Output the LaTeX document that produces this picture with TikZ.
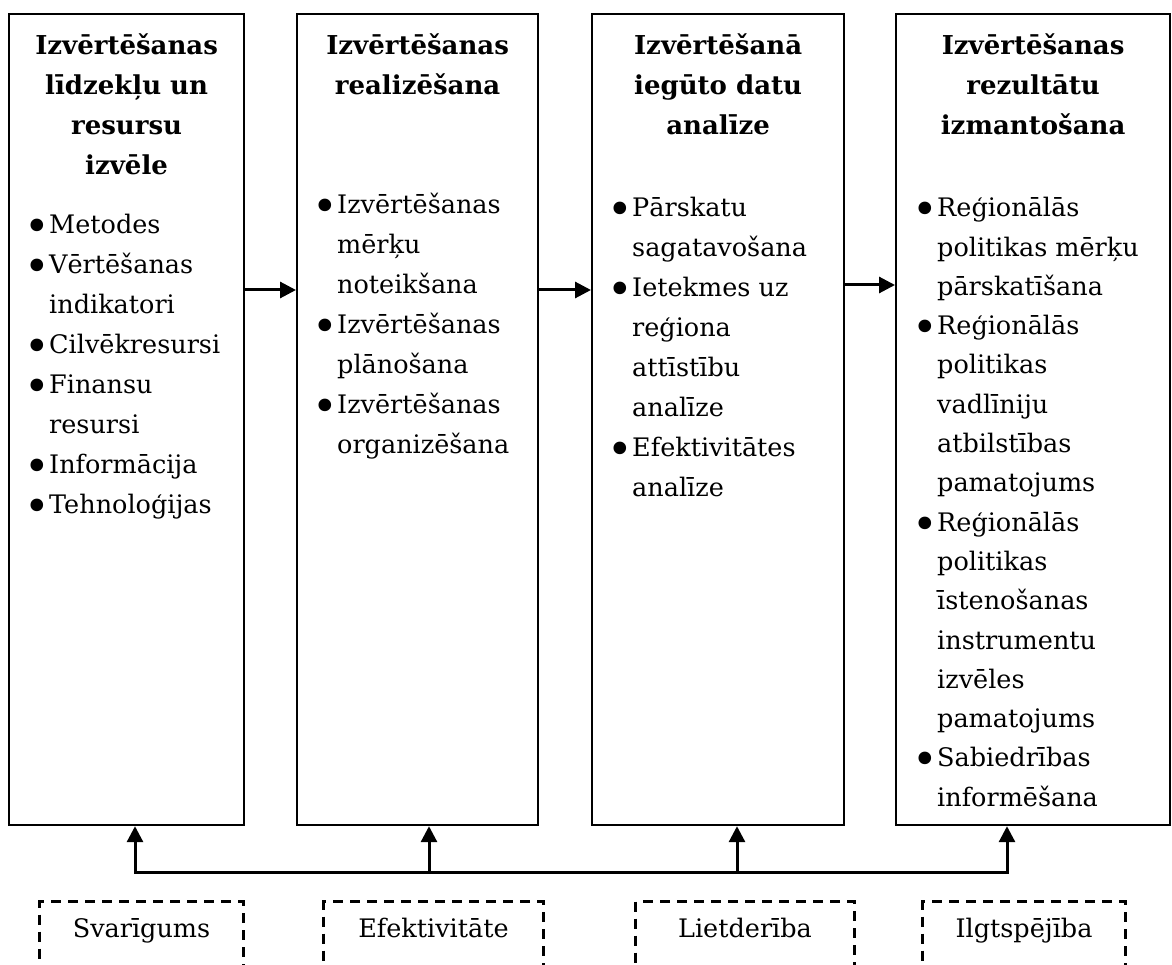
\documentclass[tikz,border=0pt]{standalone}
\usepackage{fontspec}
\setmainfont{DejaVu Serif}
\usetikzlibrary{arrows.meta}
\newcommand{\bodyfont}{\fontsize{25.5}{40}\selectfont}
\newcommand{\titlefont}{\bfseries\fontsize{26}{40}\selectfont}
\newcommand{\bul}{\raisebox{-8pt}{\scalebox{1.7}{•}}}
\begin{document}
\begin{tikzpicture}[x=1pt,y=-1pt,
  box/.style={draw, line width=2.2pt, inner sep=0pt, anchor=north west},
  ttl/.style={font=\titlefont, anchor=north, inner sep=0pt},
  lst/.style={font=\bodyfont, anchor=north west, inner sep=0pt},
  conn/.style={line width=3pt},
  arr/.style={line width=3pt, -{Triangle[length=16pt,width=16pt]}},
  dbox/.style={draw, line width=3pt, dash pattern=on 10pt off 7pt, inner sep=0pt, anchor=north west, minimum height=140pt},
  lbl/.style={font=\bodyfont, anchor=base, inner sep=0pt}]
\clip (0,0) rectangle (1172,965);
% main boxes
\node[box, minimum width=235pt, minimum height=811pt] (b1) at (8,13) {};
\node[box, minimum width=241pt, minimum height=811pt] (b2) at (296,13) {};
\node[box, minimum width=252pt, minimum height=811pt] (b3) at (591,13) {};
\node[box, minimum width=274pt, minimum height=811pt] (b4) at (895,13) {};
% titles
\node[ttl] (t1) at (b1.north |- 0,26) {\begin{tabular}{@{}c@{}}Izvērtēšanas\\līdzekļu un\\resursu\\izvēle\end{tabular}};
\node[ttl] (t2) at (b2.north |- 0,26) {\begin{tabular}{@{}c@{}}Izvērtēšanas\\realizēšana\end{tabular}};
\node[ttl] (t3) at (b3.north |- 0,26) {\begin{tabular}{@{}c@{}}Izvērtēšanā\\iegūto datu\\analīze\end{tabular}};
\node[ttl] (t4) at (b4.north |- 0,26) {\begin{tabular}{@{}c@{}}Izvērtēšanas\\rezultātu\\izmantošana\end{tabular}};
% lists
\node[lst] (l1) at (24,205) {\begin{tabular}{@{}p{25pt}@{}l@{}}
\bul & Metodes\\ \bul & Vērtēšanas\\ & indikatori\\ \bul & Cilvēkresursi\\ \bul & Finansu\\ & resursi\\ \bul & Informācija\\ \bul & Tehnoloģijas\end{tabular}};
\node[lst] (l2) at (312,185) {\begin{tabular}{@{}p{25pt}@{}l@{}}
\bul & Izvērtēšanas\\ & mērķu\\ & noteikšana\\ \bul & Izvērtēšanas\\ & plānošana\\ \bul & Izvērtēšanas\\ & organizēšana\end{tabular}};
\node[lst] (l3) at (607,188) {\begin{tabular}{@{}p{25pt}@{}l@{}}
\bul & Pārskatu\\ & sagatavošana\\ \bul & Ietekmes uz\\ & reģiona\\ & attīstību\\ & analīze\\ \bul & Efektivitātes\\ & analīze\end{tabular}};
\node[lst, font=\fontsize{25.5}{39.3}\selectfont] (l4) at (912,189) {\begin{tabular}{@{}p{25pt}@{}l@{}}
\bul & Reģionālās\\ & politikas mērķu\\ & pārskatīšana\\ \bul & Reģionālās\\ & politikas\\ & vadlīniju\\ & atbilstības\\ & pamatojums\\ \bul & Reģionālās\\ & politikas\\ & īstenošanas\\ & instrumentu\\ & izvēles\\ & pamatojums\\ \bul & Sabiedrības\\ & informēšana\end{tabular}};
% horizontal arrows
\coordinate (h1) at (0,290);
\coordinate (h3) at (0,285);
\draw[arr] (b1.east |- h1) -- (b2.west |- h1);
\draw[arr] (b2.east |- h1) -- (b3.west |- h1);
\draw[arr] (b3.east |- h3) -- (b4.west |- h3);
% bottom connectors
\coordinate (j1) at (135,872);
\coordinate (j2) at (429,872);
\coordinate (j3) at (737,872);
\coordinate (j4) at (1007,872);
\draw[conn, line cap=rect] (j1) -- (j4);
\draw[arr] (j1) -- (j1 |- b1.south);
\draw[arr] (j2) -- (j2 |- b2.south);
\draw[arr] (j3) -- (j3 |- b3.south);
\draw[arr] (j4) -- (j4 |- b4.south);
% dashed boxes
\node[dbox, minimum width=204pt] (d1) at (38,900) {};
\node[dbox, minimum width=220pt] (d2) at (322,900) {};
\node[dbox, minimum width=219pt] (d3) at (634,900) {};
\node[dbox, minimum width=203pt] (d4) at (921,900) {};
\node[lbl] (s1) at (d1.north |- 0,937) {Svarīgums};
\node[lbl] (s2) at (d2.north |- 0,937) {Efektivitāte};
\node[lbl] (s3) at (d3.north |- 0,937) {Lietderība};
\node[lbl] (s4) at (d4.north |- 0,937) {Ilgtspējība};
\end{tikzpicture}
\end{document}
